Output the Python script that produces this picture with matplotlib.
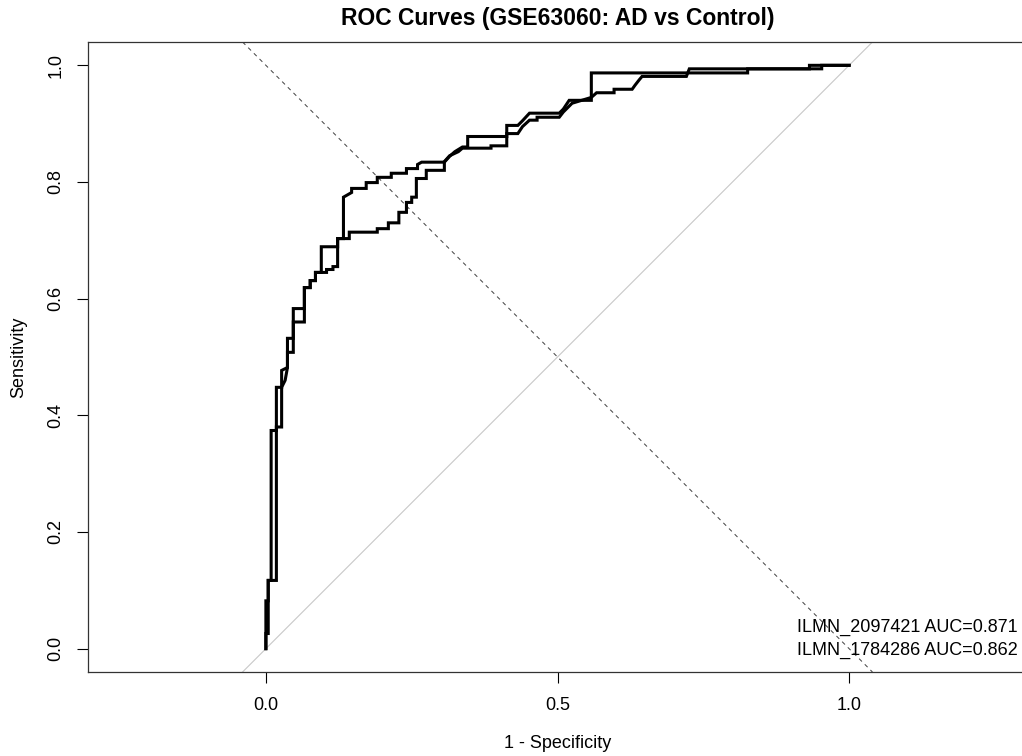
import matplotlib
matplotlib.use("Agg")
import matplotlib.pyplot as plt

plt.rcParams["font.family"] = ["Liberation Sans", "DejaVu Sans"]

# ROC points (1 - specificity, sensitivity)
FPR_2097421 = [0.0, 0.0, 0.004, 0.004, 0.009, 0.009, 0.018, 0.018, 0.027, 0.027,
               0.037, 0.037, 0.047, 0.047, 0.047, 0.066, 0.066, 0.076, 0.076, 0.085,
               0.085, 0.095, 0.095, 0.123, 0.123, 0.133, 0.133, 0.147, 0.147, 0.172,
               0.172, 0.191, 0.191, 0.215, 0.215, 0.241, 0.241, 0.260, 0.260, 0.267,
               0.306, 0.315, 0.324, 0.337, 0.346, 0.346, 0.413, 0.413, 0.432, 0.440,
               0.452, 0.503, 0.510, 0.520, 0.558, 0.558, 0.826, 0.826, 0.953, 0.953, 1.0]
TPR_2097421 = [0.0, 0.082, 0.082, 0.117, 0.117, 0.374, 0.374, 0.448, 0.448, 0.477,
               0.482, 0.532, 0.532, 0.563, 0.583, 0.583, 0.619, 0.619, 0.631, 0.631,
               0.645, 0.645, 0.689, 0.689, 0.703, 0.703, 0.774, 0.782, 0.789, 0.789,
               0.799, 0.799, 0.808, 0.808, 0.815, 0.815, 0.823, 0.823, 0.830, 0.834,
               0.834, 0.844, 0.852, 0.860, 0.860, 0.878, 0.878, 0.897, 0.897, 0.905,
               0.918, 0.918, 0.925, 0.940, 0.940, 0.987, 0.987, 0.994, 0.994, 1.0, 1.0]

FPR_1784286 = [0.0, 0.0, 0.004, 0.004, 0.018, 0.018, 0.018, 0.027, 0.027, 0.033,
               0.037, 0.037, 0.047, 0.047, 0.047, 0.066, 0.066, 0.066, 0.076, 0.076,
               0.085, 0.085, 0.095, 0.104, 0.104, 0.115, 0.115, 0.123, 0.123, 0.143,
               0.143, 0.191, 0.191, 0.210, 0.210, 0.228, 0.228, 0.241, 0.241, 0.250,
               0.250, 0.258, 0.258, 0.275, 0.275, 0.306, 0.306, 0.315, 0.330, 0.337,
               0.386, 0.386, 0.413, 0.413, 0.432, 0.440, 0.452, 0.465, 0.465, 0.503,
               0.510, 0.525, 0.558, 0.567, 0.597, 0.597, 0.628, 0.633, 0.640, 0.645,
               0.721, 0.726, 0.932, 0.932, 1.0]
TPR_1784286 = [0.0, 0.026, 0.026, 0.117, 0.117, 0.374, 0.380, 0.380, 0.448, 0.460,
               0.482, 0.508, 0.508, 0.532, 0.560, 0.560, 0.583, 0.619, 0.619, 0.631,
               0.631, 0.645, 0.645, 0.645, 0.650, 0.650, 0.655, 0.655, 0.703, 0.703,
               0.714, 0.714, 0.720, 0.720, 0.730, 0.730, 0.748, 0.748, 0.765, 0.765,
               0.774, 0.774, 0.806, 0.806, 0.820, 0.820, 0.835, 0.845, 0.852, 0.858,
               0.858, 0.862, 0.862, 0.883, 0.883, 0.895, 0.906, 0.906, 0.911, 0.911,
               0.920, 0.935, 0.945, 0.953, 0.953, 0.959, 0.959, 0.966, 0.975, 0.981,
               0.981, 0.994, 0.994, 1.0, 1.0]

LEGEND_LABELS = ["ILMN_2097421 AUC=0.871", "ILMN_1784286 AUC=0.862"]
X_TICKS = [0.0, 0.5, 1.0]
Y_TICKS = [0.0, 0.2, 0.4, 0.6, 0.8, 1.0]

W, H = 1022, 756
fig = plt.figure(figsize=(W / 100, H / 100), dpi=100)
# plot box: left 88px, top 42px, bottom 672px; right edge runs off the figure
ax = fig.add_axes([88 / W, (H - 672) / H, 939 / W, 630 / H])
ax.set_xlim(-0.305, 1.305)
ax.set_ylim(-0.04, 1.04)

# reference diagonals
ax.axline((0, 0), (1, 1), color="#c8c8c8", lw=0.8, zorder=1)
ax.axline((0, 1), (1, 0), color="#444444", lw=0.72, linestyle=(0, (4, 4)), zorder=1)

ax.plot(FPR_2097421, TPR_2097421, color="black", lw=2.2, zorder=3,
        solid_joinstyle="miter")
ax.plot(FPR_1784286, TPR_1784286, color="black", lw=2.2, zorder=3,
        solid_joinstyle="miter")

ax.set_xticks(X_TICKS)
ax.set_xticklabels([f"{t:.1f}" for t in X_TICKS])
ax.set_yticks(Y_TICKS)
ax.set_yticklabels([f"{t:.1f}" for t in Y_TICKS], rotation=90, va="center")
ax.tick_params(axis="both", direction="out", length=8, width=0.8, labelsize=13)
ax.tick_params(axis="x", pad=10)
ax.tick_params(axis="y", pad=9)
for sp in ax.spines.values():
    sp.set_linewidth(0.9)
    sp.set_color("#333333")
ax.spines["right"].set_visible(False)

ax.set_xlabel("1 - Specificity", fontsize=13)
ax.xaxis.set_label_coords(0.5, (672 - 743) / 630)
ax.xaxis.label.set_va("center")
ax.set_ylabel("Sensitivity", fontsize=13)
ax.yaxis.set_label_coords((19 - 88) / 939, 0.5)
ax.yaxis.label.set_va("center")

fig.text(557.5 / W, 1 - 18 / H, "ROC Curves (GSE63060: AD vs Control)",
         ha="center", va="center", fontsize=16.5, fontweight="bold")

for i, lab in enumerate(LEGEND_LABELS):
    ax.text((1018 - 88) / 939, (672 - 627 - 23 * i) / 630, lab,
            transform=ax.transAxes, ha="right", va="center", fontsize=13)

fig.savefig("out.png", dpi=100)
